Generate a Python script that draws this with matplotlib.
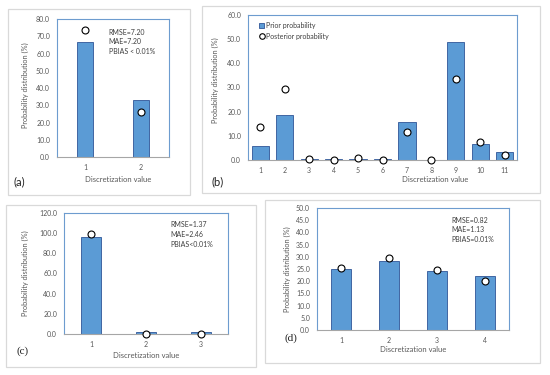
import matplotlib.pyplot as plt
from matplotlib.patches import Rectangle

# data
cats_a = [1, 2]
prior_a = [66.7, 33.3]
post_a = [73.9, 26.1]

cats_b = [1, 2, 3, 4, 5, 6, 7, 8, 9, 10, 11]
prior_b = [5.9, 18.5, 0.3, 0.3, 0.3, 0.6, 15.6, 0.2, 48.8, 6.5, 3.4]
post_b = [13.7, 29.4, 0.3, 0.1, 0.8, 0.0, 11.6, 0.0, 33.7, 7.4, 1.9]

cats_c = [1, 2, 3]
prior_c = [95.8, 1.6, 1.7]
post_c = [99.3, 0.0, 0.0]

cats_d = [1, 2, 3, 4]
prior_d = [25.2, 28.2, 24.0, 22.3]
post_d = [25.6, 29.5, 24.7, 20.0]

W, H = 550, 375
plt.rcParams['font.family'] = ['Lato', 'DejaVu Sans']

fig = plt.figure(figsize=(W / 100, H / 100), dpi=100)


def fx(x):
    return x / W


def fy(y):
    return 1 - y / H


def add_box(x0, y0, x1, y1):
    fig.patches.append(Rectangle((fx(x0), fy(y1)), fx(x1 - x0), (y1 - y0) / H,
                                 transform=fig.transFigure, fill=False,
                                 edgecolor='#d9d9d9', linewidth=0.9))


def make_panel(rect, cats, prior, post, ymax, ystep, width):
    x0, y0, x1, y1 = rect
    ax = fig.add_axes([fx(x0), fy(y1), fx(x1 - x0), (y1 - y0) / H])
    ax.bar(cats, prior, width=width, color='#5b9bd5', edgecolor='#2f5597',
           linewidth=0.6, label='Prior probability', zorder=2)
    ax.plot(cats, post, 'o', ms=5, mfc='white', mec='black', mew=0.8,
            label='Posterior probability', zorder=3, clip_on=False)
    ax.set_xlim(0.5, len(cats) + 0.5)
    ax.set_ylim(0, ymax)
    ax.set_xticks(cats)
    ticks = [i * ystep for i in range(int(round(ymax / ystep)) + 1)]
    ax.set_yticks(ticks)
    ax.set_yticklabels(['%.1f' % t for t in ticks])
    ax.tick_params(length=0, labelsize=5, colors='#595959', pad=5)
    for s in ax.spines.values():
        s.set_color('#6d9ccf')
        s.set_linewidth(0.8)
    ax.spines['bottom'].set_color('#a6a6a6')
    return ax


def side_texts(ylab_xy, xlab_xy, tag, tag_xy, serif=False):
    fig.text(fx(ylab_xy[0]), fy(ylab_xy[1]), 'Probability distribution (%)', rotation=90,
             ha='center', va='center', fontsize=5.3, color='#595959')
    fig.text(fx(xlab_xy[0]), fy(xlab_xy[1]), 'Discretization value', ha='center',
             va='center', fontsize=5.5, color='#595959')
    kw = {'family': 'Liberation Serif'} if serif else {}
    fig.text(fx(tag_xy[0]), fy(tag_xy[1]), tag, ha='center', va='center', fontsize=8,
             color='#222222', **kw)


def stats_text(ax, x, s):
    ax.text(x, 0.93, s, transform=ax.transAxes, fontsize=5, va='top', ha='left',
            color='#404040', linespacing=1.45)


# panel (a)
add_box(8, 9, 190, 195)
ax_a = make_panel((57, 19, 169, 157), cats_a, prior_a, post_a, 80, 10, 0.27)
stats_text(ax_a, 0.46, 'RMSE=7.20\nMAE=7.20\nPBIAS < 0.01%')
side_texts((25, 85), (118, 180), '(a)', (19, 182))

# panel (b)
add_box(202, 6, 540, 193)
ax_b = make_panel((248, 15, 517, 160), cats_b, prior_b, post_b, 60, 10, 0.7)
handles, labels = ax_b.get_legend_handles_labels()
order = [labels.index('Prior probability'), labels.index('Posterior probability')]
ax_b.legend([handles[i] for i in order], [labels[i] for i in order],
            loc='upper left', bbox_to_anchor=(0.03, 0.97), frameon=False,
            fontsize=5, handlelength=0.8, handleheight=0.6, handletextpad=0.2,
            labelspacing=0.5, borderaxespad=0, markerscale=0.8, labelcolor='#404040')
side_texts((215, 80), (435, 180), '(b)', (218, 182))

# panel (c)
add_box(6, 205, 256, 367)
ax_c = make_panel((64, 213, 228, 334), cats_c, prior_c, post_c, 120, 20, 0.37)
stats_text(ax_c, 0.65, 'RMSE=1.37\nMAE=2.46\nPBIAS<0.01%')
side_texts((25, 273), (146, 355), '(c)', (23, 351), serif=True)

# panel (d)
add_box(265, 200, 540, 363)
ax_d = make_panel((317, 208, 509, 330), cats_d, prior_d, post_d, 50, 5, 0.42)
stats_text(ax_d, 0.70, 'RMSE=0.82\nMAE=1.13\nPBIAS=0.01%')
side_texts((287, 269), (413, 350), '(d)', (291, 338), serif=True)

fig.savefig('out.png', dpi=100)
